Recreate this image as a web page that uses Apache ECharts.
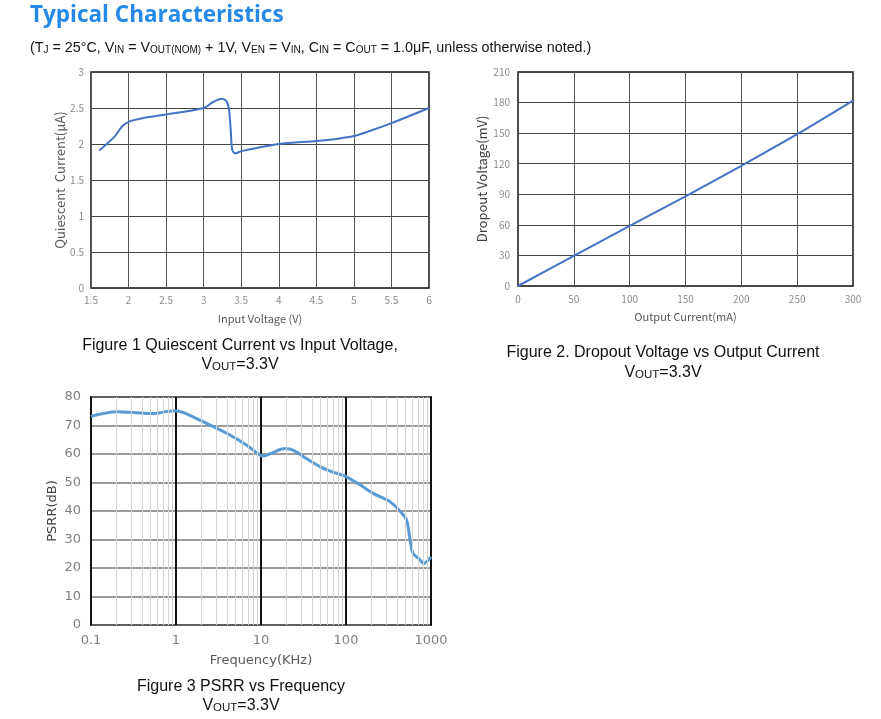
<!DOCTYPE html>
<html><head><meta charset="utf-8">
<script src="https://cdn.jsdelivr.net/npm/echarts@6/dist/echarts.min.js"></script>
<style>html,body{margin:0;padding:0;background:#fff}#c{width:881px;height:719px}</style>
</head><body><div id="c"></div>
<script>
// Figure 1: Quiescent current vs input voltage
const iqVoltage = [1.61,1.82,1.91,2.01,2.2,2.5,3.0,3.12,3.24,3.3,3.335,3.36,3.38,3.42,3.5,4.0,4.5,4.77,5.0,5.21,5.5,6.0];
const iqCurrent = [1.91,2.11,2.24,2.31,2.36,2.41,2.5,2.58,2.63,2.6,2.5,2.2,1.92,1.87,1.9,2.0,2.04,2.07,2.11,2.18,2.29,2.5];
const iqXTicks = [1.5,2,2.5,3,3.5,4,4.5,5,5.5,6];
const iqYTicks = [0,0.5,1,1.5,2,2.5,3];
// Figure 2: Dropout voltage vs output current
const doCurrent = [0,50,100,150,200,250,300];
const doVoltage = [0,29.5,59,88,118,149,182];
const doYTicks = [0,30,60,90,120,150,180,210];
// Figure 3: PSRR vs frequency
const psrrFreq = [0.1,0.2,0.38,0.55,0.78,0.98,1.23,1.93,4.0,6.8,9.4,10.7,12.8,19.3,24.2,31.7,49.9,65.4,101,148,211,332,476,524,572,614,716,820,1000];
const psrrDb = [73.2,74.8,74.4,74.2,74.9,75.2,74.5,71.8,67.2,63.1,59.9,59.3,60.1,61.9,61.3,59.0,55.5,54.0,52.0,49.1,46.1,43.2,38.5,36.2,29.2,25.1,23.4,21.6,23.9];
const psrrDecades = [0.1,1,10,100,1000];

// minor log grid positions (2..9 within each decade)
const minorFreq = [];
psrrDecades.slice(0,-1).forEach(d => { for (let k=2;k<=9;k++) minorFreq.push(+(d*k).toPrecision(3)); });

const chart = echarts.init(document.getElementById('c'), null, {renderer:'canvas'});
const cjk = '"Noto Sans CJK SC", "Noto Sans", sans-serif';
const arial = '"Liberation Sans", Arial, sans-serif';
const dv = '"DejaVu Sans", Verdana, sans-serif';
const subRich = {
  n: {fontSize: 16, fontFamily: arial, fill: '#111', verticalAlign: 'bottom', lineHeight: 18},
  s: {fontSize: 11.5, fontFamily: arial, fill: '#111', verticalAlign: 'bottom', lineHeight: 16}
};
const subRichSmall = {
  n: {fontSize: 14.3, fontFamily: arial, fill: '#111', verticalAlign: 'bottom', lineHeight: 16},
  s: {fontSize: 10, fontFamily: arial, fill: '#111', verticalAlign: 'bottom', lineHeight: 14.5}
};
function caption(text, x, y) {
  return {type:'text', style:{text, x, y, align:'center', verticalAlign:'middle', font:'16px ' + arial, fill:'#111'}};
}
function vout(x, y) {
  return {type:'text', style:{text:'{n|V}{s|OUT}{n|=3.3V}', x, y, align:'center', verticalAlign:'middle', rich: subRich}};
}

const option = {
  animation: false,
  backgroundColor: '#fff',
  graphic: [
    {type:'text', style:{text:'Typical Characteristics', x:30, y:16, verticalAlign:'middle', font:'bold 22.5px "Open Sans", sans-serif', fill:'#2589E8'}},
    {type:'text', style:{
      text:'{n|(T}{s|J}{n| = 25°C, V}{s|IN}{n| = V}{s|OUT(NOM)}{n| + 1V, V}{s|EN}{n| = V}{s|IN}{n|, C}{s|IN}{n| = C}{s|OUT}{n| = 1.0μF, unless otherwise noted.)}',
      x:30, y:47, verticalAlign:'middle', rich: subRichSmall}},
    caption('Figure 1 Quiescent Current vs Input Voltage,', 240, 346),
    vout(240, 364),
    caption('Figure 2. Dropout Voltage vs Output Current', 663, 353),
    vout(663, 372),
    caption('Figure 3 PSRR vs Frequency', 241, 687),
    vout(241, 705)
  ],
  grid: [
    {left:91, top:72, width:338, height:216, show:true, borderColor:'#111', borderWidth:1.5, containLabel:false},
    {left:518, top:72, width:335, height:214, show:true, borderColor:'#111', borderWidth:1.5, containLabel:false},
    {left:91, top:397, width:340, height:228, show:true, borderColor:'#111', borderWidth:2, containLabel:false}
  ],
  xAxis: [
    {gridIndex:0, type:'value', min:iqXTicks[0], max:iqXTicks[iqXTicks.length-1], interval:0.5,
     axisLine:{show:false}, axisTick:{show:false},
     axisLabel:{fontSize:10, color:'#8c8c8c', margin:7, fontFamily:cjk},
     splitLine:{show:true, lineStyle:{color:'#555', width:1}},
     name:'Input Voltage (V)', nameLocation:'middle', nameGap:25,
     nameTextStyle:{fontSize:11, color:'#595959', fontFamily:cjk}},
    {gridIndex:1, type:'value', min:doCurrent[0], max:doCurrent[doCurrent.length-1], interval:50,
     axisLine:{show:false}, axisTick:{show:false},
     axisLabel:{fontSize:10, color:'#8c8c8c', margin:8, fontFamily:cjk},
     splitLine:{show:true, lineStyle:{color:'#555', width:1}},
     name:'Output Current(mA)', nameLocation:'middle', nameGap:25,
     nameTextStyle:{fontSize:11, color:'#595959', fontFamily:cjk}},
    {gridIndex:2, type:'log', logBase:10, min:psrrDecades[0], max:psrrDecades[psrrDecades.length-1],
     axisLine:{show:false}, axisTick:{show:false},
     axisLabel:{fontSize:13, color:'#808080', margin:9, fontFamily:dv, formatter: v => String(v)},
     splitLine:{show:true, lineStyle:{color:'#111', width:2}},
     name:'Frequency(KHz)', nameLocation:'middle', nameGap:29,
     nameTextStyle:{fontSize:13, color:'#595959', fontFamily:dv}}
  ],
  yAxis: [
    {gridIndex:0, type:'value', min:iqYTicks[0], max:iqYTicks[iqYTicks.length-1], interval:0.5,
     axisLine:{show:false}, axisTick:{show:false},
     axisLabel:{fontSize:10, color:'#8c8c8c', margin:7, fontFamily:cjk},
     splitLine:{show:true, lineStyle:{color:'#444', width:1}},
     name:'Quiescent  Current(μA)', nameLocation:'middle', nameGap:22.5,
     nameTextStyle:{fontSize:13, color:'#595959', fontFamily:cjk}},
    {gridIndex:1, type:'value', min:doYTicks[0], max:doYTicks[doYTicks.length-1], interval:30,
     axisLine:{show:false}, axisTick:{show:false},
     axisLabel:{fontSize:10, color:'#8c8c8c', margin:8, fontFamily:cjk},
     splitLine:{show:true, lineStyle:{color:'#444', width:1}},
     name:'Dropout Voltage(mV)', nameLocation:'middle', nameGap:29.5,
     nameTextStyle:{fontSize:13, color:'#404040', fontFamily:cjk}},
    {gridIndex:2, type:'value', min:0, max:80, interval:10,
     axisLine:{show:false}, axisTick:{show:false},
     axisLabel:{fontSize:13, color:'#808080', margin:10, fontFamily:dv},
     splitLine:{show:true, lineStyle:{color:'#7a7a7a', width:1.5}},
     name:'PSRR(dB)', nameLocation:'middle', nameGap:31.5,
     nameTextStyle:{fontSize:13, color:'#404040', fontFamily:dv}}
  ],
  series: [
    {type:'line', xAxisIndex:0, yAxisIndex:0, data: iqVoltage.map((v,i)=>[v, iqCurrent[i]]),
     smooth:0.3, showSymbol:false, symbol:'none',
     lineStyle:{color:'#4472C4', width:2}},
    {type:'line', xAxisIndex:1, yAxisIndex:1, data: doCurrent.map((v,i)=>[v, doVoltage[i]]),
     smooth:0.3, showSymbol:false, symbol:'none',
     lineStyle:{color:'#4472C4', width:2}},
    {type:'line', xAxisIndex:2, yAxisIndex:2, data: [], z:1, silent:true,
     markLine:{silent:true, symbol:['none','none'], label:{show:false},
       lineStyle:{color:'#d4d4d4', width:1, type:'solid'},
       data: minorFreq.map(f => ({xAxis: f}))}},
    {type:'line', xAxisIndex:2, yAxisIndex:2, data: psrrFreq.map((v,i)=>[v, psrrDb[i]]),
     smooth:0.3, showSymbol:false, symbol:'none', z:3,
     lineStyle:{color:'#5B9BD5', width:3}}
  ]
};
chart.setOption(option);
</script></body></html>
